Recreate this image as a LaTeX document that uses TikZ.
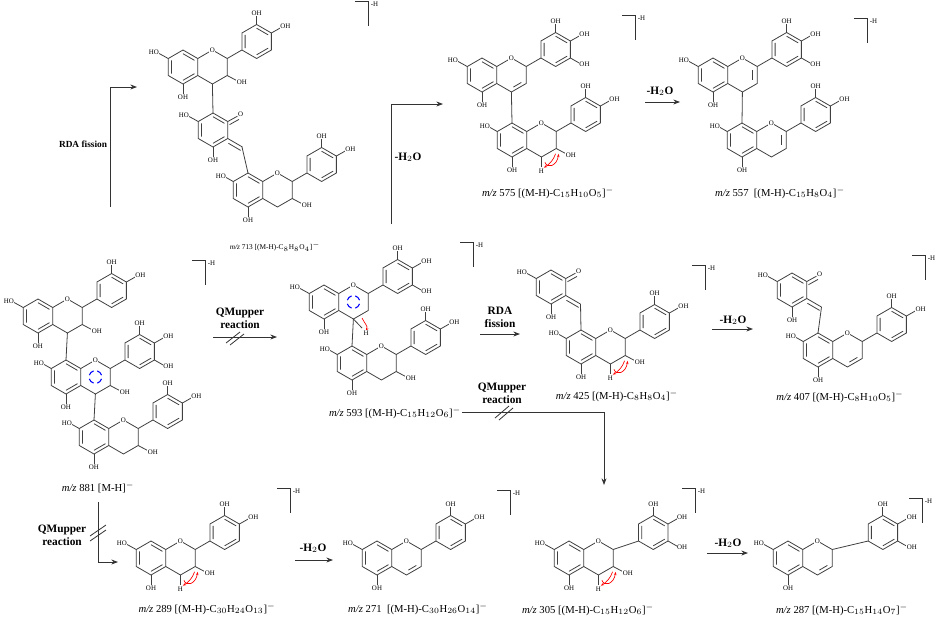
\documentclass[tikz,border=0pt]{standalone}
\usepackage{fontspec}
\setmainfont{Liberation Serif}
\usetikzlibrary{arrows.meta}
\tikzset{
 bond/.style={draw=black!75,line width=0.6pt},
 atom/.style={font=\fontsize{5.2}{5.2}\selectfont,inner sep=0.4pt,fill=white},
 mz/.style={font=\fontsize{8}{9}\selectfont,inner sep=1pt},
 rlab/.style={font=\fontsize{8.5}{9.5}\selectfont\bfseries,align=center,inner sep=1pt},
 arr/.style={draw=black!80,line width=0.6pt,-{Stealth[length=5pt]}},
 ln/.style={draw=black!80,line width=0.6pt},
 mech/.style={line width=0.5pt,-{Stealth[length=2.5pt]}}
}
\newcommand\hexring[2]{\draw[bond,shift={(#1,#2)}] (30:16)--(90:16)--(150:16)--(210:16)--(270:16)--(330:16)--cycle;
 \draw[bond,shift={(#1,#2)}] (150:12.5)--(210:12.5) (270:12.5)--(330:12.5) (30:12.5)--(90:12.5);}
\newcommand\flav[4]{%
\begin{scope}[shift={(#1,#2)},scale=1.0625]
 \def\bdx{#4}
 \hexring{0}{0}
 \draw[bond] (13.9,-8)--(27.7,-16)--(41.6,-8)--(41.6,8)--(27.7,16)--(13.9,8);
 \draw[bond] (41.6,-8)--(55.4+\bdx,-16);
 \hexring{69.3+\bdx}{-24}
 \node[atom] at (27.7,-16) {O};
 \draw[bond] (69.3+\bdx,-40)--(69.3+\bdx,-48); \node[atom] at (69.3+\bdx,-51) {OH};
 \draw[bond] (83.2+\bdx,-32)--(92+\bdx,-37); \node[atom,anchor=west] at (91+\bdx,-38) {OH};
 \draw[bond] (0,16)--(0,25); \node[atom] at (0,28) {OH};
 #3
\end{scope}}
\newcommand\hoA{\draw[bond] (-13.9,-8)--(-23,-13); \node[atom,anchor=east] at (-22,-14) {HO};}
\newcommand\ohC{\draw[bond] (41.6,8)--(51,13); \node[atom,anchor=west] at (50,14) {OH};}
\newcommand\ohB{\draw[bond] (83.2+\bdx,-16)--(92+\bdx,-11); \node[atom,anchor=west] at (91+\bdx,-10) {OH};}
\newcommand\dbR{\draw[bond] (37.5,-4.5)--(37.5,4.5);}
\newcommand\dbLR{\draw[bond] (37,7)--(29.5,11.4);}
\newcommand\redarr{\draw[red,mech] (31,21) .. controls (33,27) and (42,25) .. (44,13);
 \draw[red,mech] (41,13) .. controls (39,19) and (35,23) .. (30,26);
 \draw[bond] (27.7,16)--(27.7,25); \node[atom] at (27.7,29) {H};}
\newcommand\bluearr{\foreach \a in {45,135,225,315}{\draw[blue,line width=0.8pt,shift={(27.7,0)}] (\a-28:6) arc (\a-28:\a+28:6);}}
\newcommand\hoL{\draw[bond] (-13.9,-8)--(-21,-12); \node[atom,anchor=east] at (-20,-13) {HO};}
\newcommand\quin[2]{%
\begin{scope}[shift={(#1,#2)},scale=1.0625]
 \hexring{0}{0}
 \draw[bond] (13.9,-8)--(23,-13); \draw[bond] (15.5,-5)--(24.5,-10); \node[atom] at (26,-15) {O};
 \draw[bond] (-13.9,-8)--(-23,-13); \node[atom,anchor=east] at (-22,-14) {HO};
 \draw[bond] (0,16)--(0,25); \node[atom] at (0,28) {OH};
 \draw[bond] (13.9,8)--(27.7,16); \draw[bond] (14.5,12.5)--(26,19.2);
\end{scope}}
\newcommand\brk[2]{\draw[ln] (#1-13,#2)--(#1,#2)--(#1,#2+25); \node[atom,fill=none,anchor=west] at (#1+2,#2+3) {-H};}
\begin{document}
\begin{tikzpicture}[x=0.75pt,y=-0.75pt]
\useasboundingbox (0,0) rectangle (938,619);
% ===== m/z 713 =====
\flav{183}{67}{\hoA\ohC}{0}
\draw[bond] (212.4,84)--(213,113);
\quin{213}{130}
\draw[bond] (242,147)--(248,173);
\flav{248}{190}{\ohC\hoL}{0}
\node[mz,font=\fontsize{5.5}{6}\selectfont] (l713) at (275,247) {\textit{m/z} 713 [(M-H)-C$_8$H$_8$O$_4$]$^{-}$};
\brk{368}{1}
\coordinate (r1) at (110,207); \coordinate (r2) at (110,87); \coordinate (r3) at (137,87);
\draw[arr] (r1)--(r2)--(r3);
\node[rlab,font=\fontsize{7}{8}\selectfont\bfseries] (lrda1) at (83,144) {RDA fission};
\coordinate (h1) at (391,224); \coordinate (h2) at (391,104); \coordinate (h3) at (443,104);
\draw[arr] (h1)--(h2)--(h3);
\node[rlab] (lh1) at (408,157) {-H$_2$O};
% ===== m/z 575 =====
\flav{482}{75}{\hoA\ohB\dbLR}{0}
\draw[bond] (511.4,92)--(512,123);
\flav{512}{140}{\ohC\redarr\hoL}{0}
\node[mz] (l575) at (548,193) {\textit{m/z} 575 [(M-H)-C$_{15}$H$_{10}$O$_5$]$^{-}$};
\brk{635}{15}
\draw[arr] (645,102)--(680,102); \node[rlab] at (660,91) {-H$_2$O};
% ===== m/z 557 =====
\flav{713}{75}{\hoA\ohB\dbR}{0}
\draw[bond] (742.4,92)--(742,123);
\flav{742}{140}{\dbR\hoL}{0}
\node[mz] (l557) at (780,193) {\textit{m/z} 557\enskip[(M-H)-C$_{15}$H$_8$O$_4$]$^{-}$};
\brk{867}{18}
% ===== m/z 881 =====
\flav{38}{316}{\hoA\ohC}{0}
\draw[bond] (67.4,333)--(66,360);
\flav{66}{377}{\ohC\ohB\bluearr\hoL}{0}
\draw[bond] (95.4,394)--(94,420);
\flav{94}{437}{\ohC\hoL}{0}
\node[mz] (l881) at (98,488) {\textit{m/z} 881 [M-H]$^{-}$};
\brk{205}{260}
\draw[arr] (213,337)--(277,337);
\draw[ln] (226,343)--(240,332) (230,345)--(244,334);
\node[rlab] at (240,318) {QMupper\\reaction};
% ===== m/z 593 =====
\flav{324}{302}{\hoA\ohB\bluearr}{0}
\draw[bond] (353.4,319)--(352,346);
\flav{352}{363}{\ohC\hoL}{0}
\draw[red,mech] (362,318) .. controls (365,324) and (368,326) .. (366,331);
\draw[bond] (353.4,319)--(362,328); \node[atom] at (366,333) {H};
\node[mz] (l593) at (395,413) {\textit{m/z} 593 [(M-H)-C$_{15}$H$_{12}$O$_6$]$^{-}$};
\brk{473}{242}
\draw[arr] (480,334)--(520,334);
\node[rlab] at (500,317) {RDA\\fission};
% ===== m/z 425 =====
\quin{551}{287}
\draw[bond] (580.5,304)--(581,330);
\flav{581}{347}{\ohC\redarr\hoL}{0}
\node[mz] (l425) at (617,396) {\textit{m/z} 425 [(M-H)-C$_8$H$_8$O$_4$]$^{-}$};
\brk{705}{265}
\draw[arr] (712,329)--(753,329); \node[rlab] at (733,320) {-H$_2$O};
% ===== m/z 407 =====
\quin{792}{290}
\draw[bond] (821.5,307)--(818,333);
\flav{818}{350}{\dbLR\hoL}{0}
\node[mz] (l407) at (840,397) {\textit{m/z} 407 [(M-H)-C$_8$H$_{10}$O$_5$]$^{-}$};
\brk{925}{255}
\coordinate (q1) at (462,412); \coordinate (q2) at (604,412); \coordinate (q3) at (604,485);
\draw[arr] (q1)--(q2)--(q3);
\draw[ln] (495,418)--(509,406) (499,420)--(513,408);
\node[rlab] at (502,393) {QMupper\\reaction};
\coordinate (b1) at (98,502); \coordinate (b2) at (98,562); \coordinate (b3) at (118,562);
\draw[arr] (b1)--(b2)--(b3);
\draw[ln] (90,536)--(106,525) (90,541)--(106,530);
\node[rlab] at (62,535) {QMupper\\reaction};
% ===== m/z 289 =====
\flav{151}{558}{\hoA\ohC\redarr}{0}
\node[mz] (l289) at (207,609) {\textit{m/z} 289 [(M-H)-C$_{30}$H$_{24}$O$_{13}$]$^{-}$};
\brk{290}{488}
\draw[arr] (295,560)--(333,560); \node[rlab] at (313,548) {-H$_2$O};
% ===== m/z 271 =====
\flav{377}{558}{\hoA\dbLR}{0}
\node[mz] (l271) at (418,609) {\textit{m/z} 271\enskip[(M-H)-C$_{30}$H$_{26}$O$_{14}$]$^{-}$};
\brk{510}{490}
% ===== m/z 305 =====
\flav{569}{558}{\hoA\ohC\ohB\redarr}{10}
\node[mz] (l305) at (588,610) {\textit{m/z} 305 [(M-H)-C$_{15}$H$_{12}$O$_6$]$^{-}$};
\brk{695}{488}
\draw[arr] (707,553)--(748,553); \node[rlab] at (728,543) {-H$_2$O};
% ===== m/z 287 =====
\flav{788}{558}{\hoA\ohB\dbLR}{20}
\node[mz] (l287) at (842,610) {\textit{m/z} 287 [(M-H)-C$_{15}$H$_{14}$O$_7$]$^{-}$};
\brk{922}{498}
\end{tikzpicture}
\end{document}
